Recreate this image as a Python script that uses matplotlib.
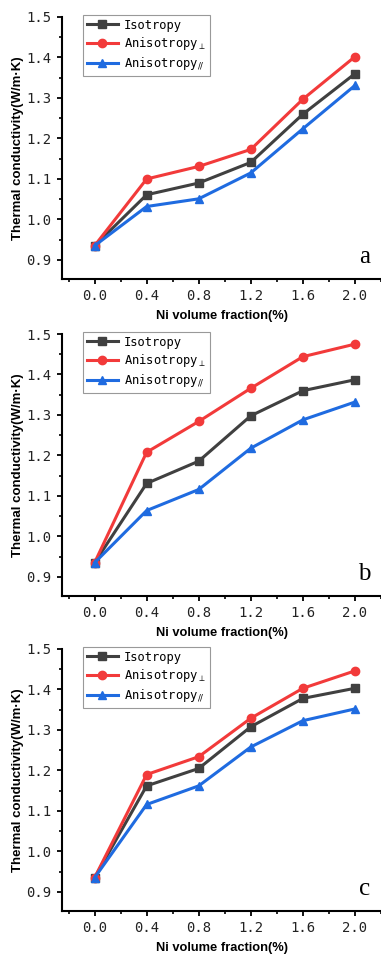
import numpy as np
import matplotlib.pyplot as plt
from matplotlib.ticker import MultipleLocator

# Ni volume fraction (%)
ni_fraction = [0.0, 0.4, 0.8, 1.2, 1.6, 2.0]

# panel a
iso_a = [0.935, 1.061, 1.090, 1.141, 1.260, 1.360]
perp_a = [0.935, 1.100, 1.131, 1.173, 1.297, 1.402]
par_a = [0.935, 1.032, 1.051, 1.115, 1.224, 1.331]

# panel b
iso_b = [0.935, 1.131, 1.186, 1.298, 1.360, 1.387]
perp_b = [0.935, 1.208, 1.284, 1.366, 1.444, 1.475]
par_b = [0.935, 1.064, 1.116, 1.218, 1.288, 1.332]

# panel c
iso_c = [0.935, 1.162, 1.205, 1.308, 1.378, 1.403]
perp_c = [0.935, 1.190, 1.234, 1.329, 1.403, 1.446]
par_c = [0.935, 1.116, 1.162, 1.258, 1.323, 1.352]

panels = [("a", iso_a, perp_a, par_a),
          ("b", iso_b, perp_b, par_b),
          ("c", iso_c, perp_c, par_c)]

# (bottom, height) of each axes in figure fraction
positions = [(678 / 957, 262 / 957), (361 / 957, 262 / 957), (46 / 957, 262 / 957)]

fig = plt.figure(figsize=(3.81, 9.57), dpi=100)

for (letter, iso, perp, par), (bottom, height) in zip(panels, positions):
    ax = fig.add_axes([62 / 381, bottom, 1 - 62 / 381, height])

    ax.plot(ni_fraction, iso, color="#404040", marker="s", markersize=5.5,
            linewidth=2.2, label="Isotropy")
    ax.plot(ni_fraction, perp, color="#f23a3a", marker="o", markersize=6,
            linewidth=2.2, label=r"Anisotropy$_{\perp}$")
    ax.plot(ni_fraction, par, color="#1f6be0", marker="^", markersize=6,
            linewidth=2.2, label=r"Anisotropy$_{//}$")

    ax.set_xlim(-0.25, 2.2)
    ax.set_ylim(0.853, 1.5)
    ax.xaxis.set_major_locator(MultipleLocator(0.4))
    ax.xaxis.set_minor_locator(MultipleLocator(0.2))
    ax.yaxis.set_major_locator(MultipleLocator(0.1))
    ax.yaxis.set_minor_locator(MultipleLocator(0.05))
    ax.xaxis.set_major_formatter(plt.FuncFormatter(lambda v, p: f"{v:.1f}"))
    ax.yaxis.set_major_formatter(plt.FuncFormatter(lambda v, p: f"{v:.1f}"))

    for side in ["top", "right"]:
        ax.spines[side].set_visible(False)
    for side in ["left", "bottom"]:
        ax.spines[side].set_linewidth(1.5)

    ax.tick_params(which="major", direction="out", length=3.5, width=1.3,
                   labelsize=10, pad=4)
    ax.tick_params(which="minor", direction="out", length=2, width=1.2)
    for lab in ax.get_xticklabels() + ax.get_yticklabels():
        lab.set_family("DejaVu Sans Mono")
        lab.set_color("#222222")

    ax.set_xlabel("Ni volume fraction(%)", family="Liberation Sans",
                  fontweight="bold", fontsize=9.3, labelpad=5)
    ax.set_ylabel("Thermal conductivity(W/m\u00b7K)", family="Liberation Sans",
                  fontweight="bold", fontsize=9.5)
    ax.yaxis.set_label_coords(-0.118, 0.5)

    leg = ax.legend(loc="upper left", bbox_to_anchor=(0.066, 1.008),
                    borderaxespad=0, fancybox=False, edgecolor="#999999",
                    framealpha=1, handlelength=2.6, handletextpad=0.5,
                    labelspacing=0.3, borderpad=0.3,
                    prop={"family": "DejaVu Sans Mono", "size": 8.7})
    leg.get_frame().set_linewidth(0.8)

    ax.text(0.966, 0.06, letter, transform=ax.transAxes, ha="right",
            va="baseline", family="Liberation Serif", fontsize=18)

fig.savefig("out.png", dpi=100)
